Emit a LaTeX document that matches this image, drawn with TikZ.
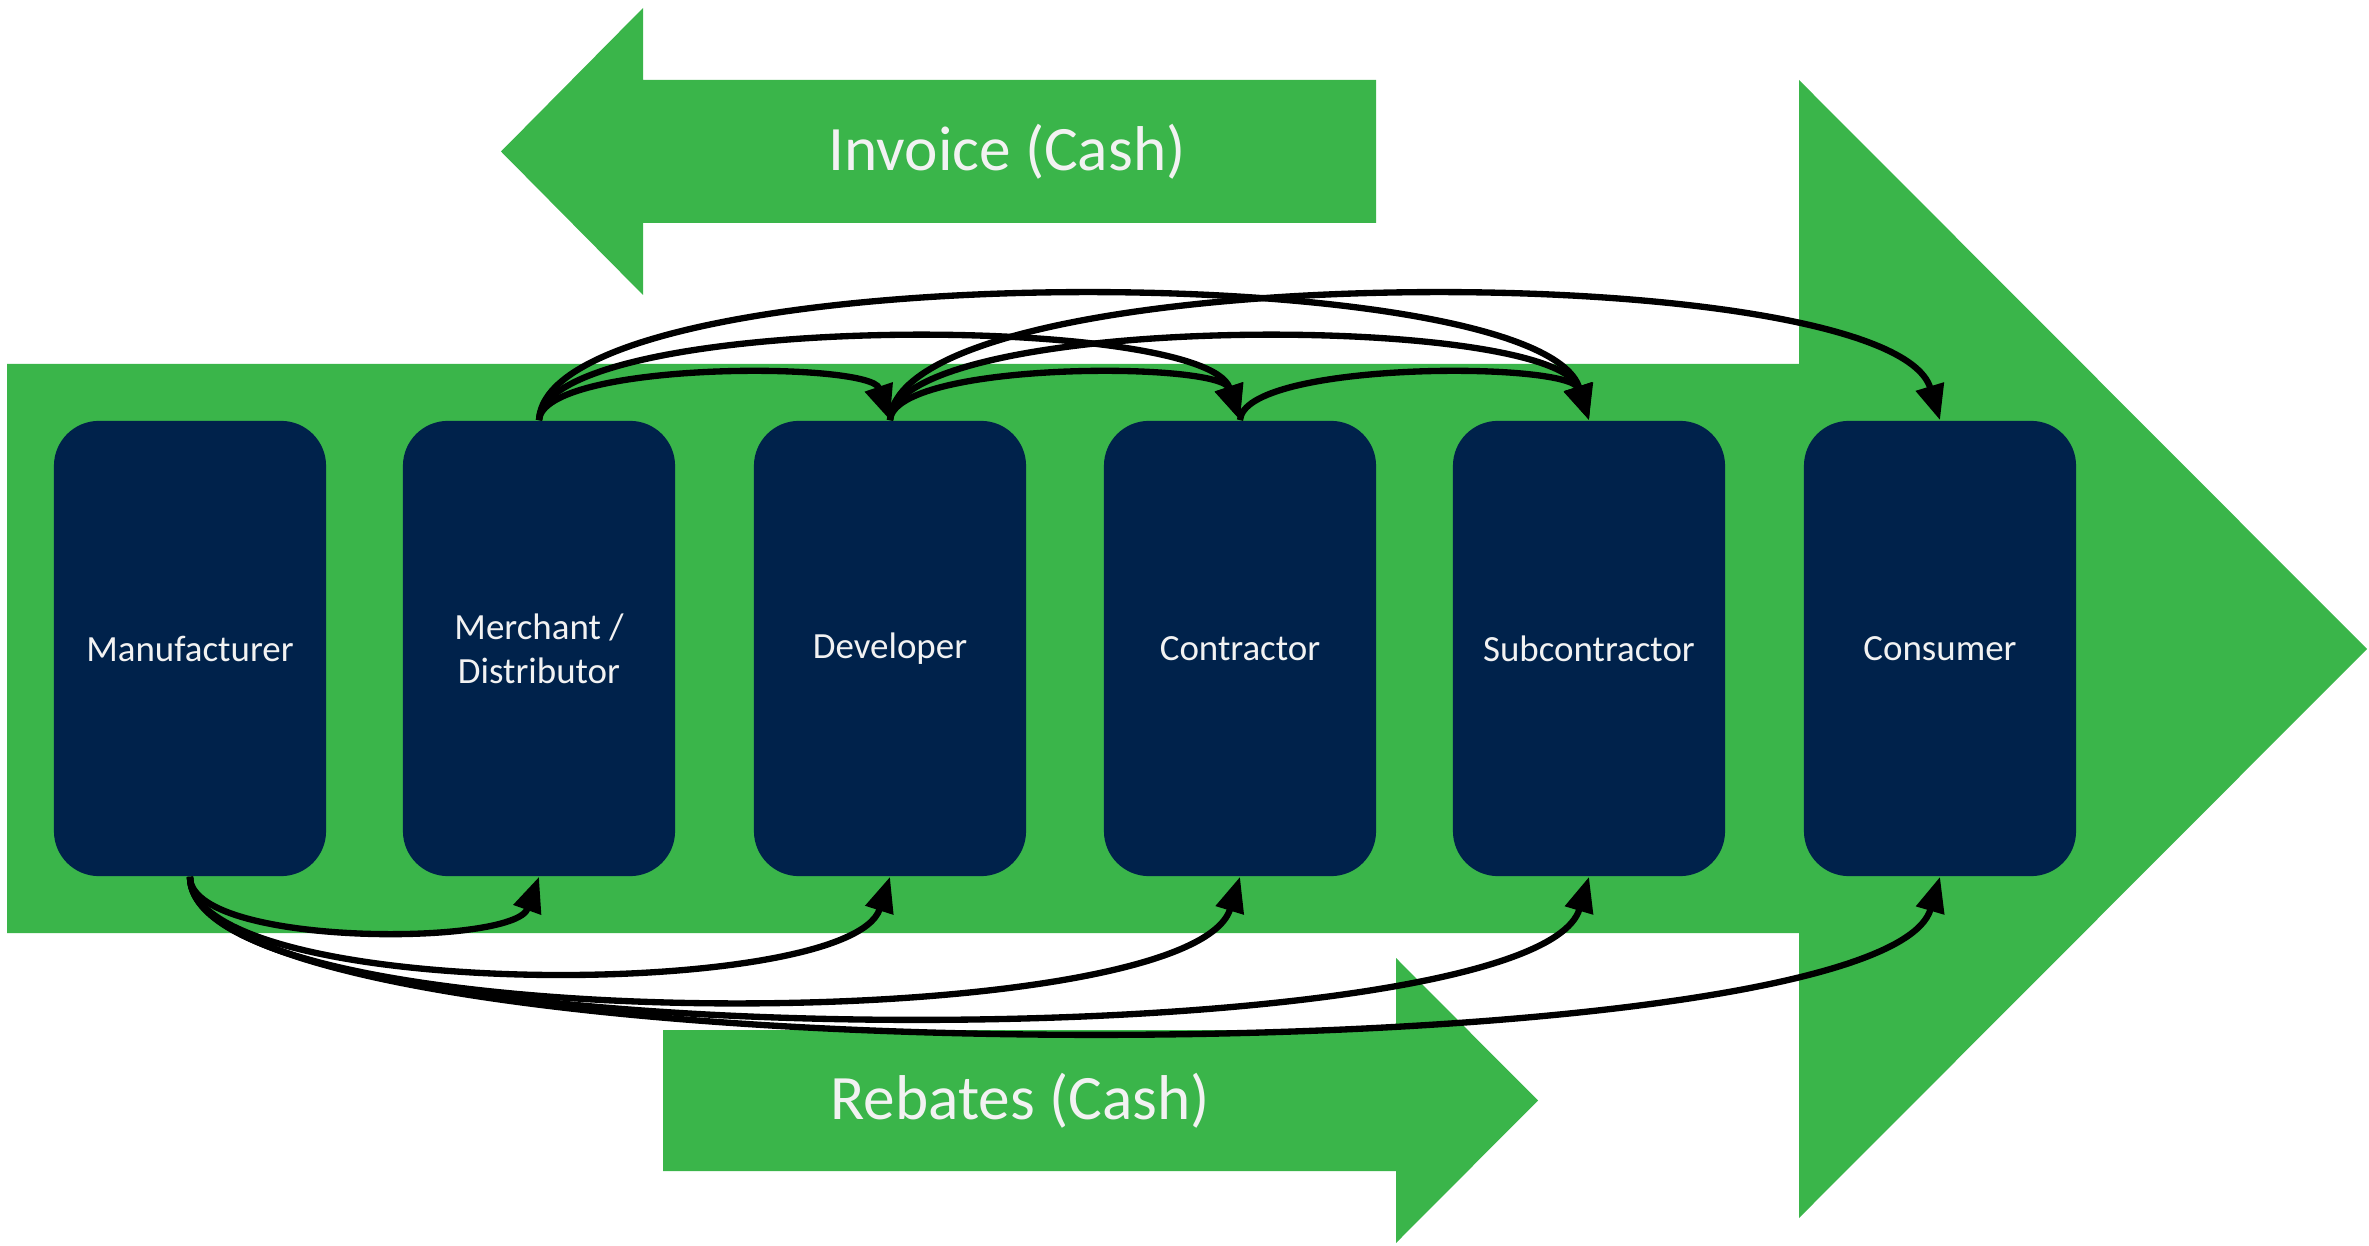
\documentclass[tikz,border=0pt]{standalone}
\usepackage{fontspec}
\setmainfont{Carlito}
\usetikzlibrary{arrows.meta}
\definecolor{flowgreen}{RGB}{58,181,74}
\definecolor{navy}{RGB}{0,34,75}
\definecolor{paletext}{RGB}{242,242,242}

\begin{document}
\begin{tikzpicture}[x=0.01cm,y=-0.01cm,
  party/.style={fill=navy, rounded corners=0.45cm, minimum width=2.72cm,
    minimum height=4.55cm, inner sep=0pt, align=center, text=paletext,
    font=\fontsize{10.5}{12.6}\selectfont},
  flowlabel/.style={text=paletext, font=\fontsize{18}{21}\selectfont},
  link/.style={line width=1.8pt, -{Triangle[length=10pt,width=8pt]}},
  band/.style={fill=flowgreen}]
\useasboundingbox (0,0) rectangle (2369,1246);

% main flow arrow
\fill[band] (7,364) -- (1799,364) -- (1799,80) -- (2367,649) -- (1799,1218)
  -- (1799,933) -- (7,933) -- cycle;

% invoice arrow (leftwards)
\fill[band] (1376,80) -- (643,80) -- (643,8) -- (501,151.5) -- (643,295)
  -- (643,223) -- (1376,223) -- cycle;
\node[flowlabel] (inv) at (1007,151.5) {Invoice (Cash)};

% rebates arrow (rightwards)
\fill[band] (663,1030) -- (1396,1030) -- (1396,958) -- (1538,1100.5)
  -- (1396,1243) -- (1396,1171) -- (663,1171) -- cycle;
\node[flowlabel] (reb) at (1020,1100.5) {Rebates (Cash)};

% parties in the chain
\node[party] (man)  at (190,648.5)  {Manufacturer};
\node[party] (mer)  at (539,648.5)  {Merchant /\\Distributor};
\node[party] (dev)  at (890,648.5)  {Developer};
\node[party] (con)  at (1240,648.5) {Contractor};
\node[party] (sub)  at (1589,648.5) {Subcontractor};
\node[party] (cons) at (1940,648.5) {Consumer};

% links over the top
\draw[link] (mer.north) .. controls +(4,-59) and +(-20,-59) .. (dev.north);
\draw[link] (mer.north) .. controls +(6,-108) and +(-35,-108) .. (con.north);
\draw[link] (mer.north) .. controls +(8,-165) and +(-50,-165) .. (sub.north);
\draw[link] (dev.north) .. controls +(4,-59) and +(-20,-59) .. (con.north);
\draw[link] (dev.north) .. controls +(6,-108) and +(-35,-108) .. (sub.north);
\draw[link] (dev.north) .. controls +(8,-165) and +(-50,-165) .. (cons.north);
\draw[link] (con.north) .. controls +(4,-59) and +(-20,-59) .. (sub.north);

% links underneath, from the manufacturer
\draw[link] (man.south) .. controls +(0,70) and +(-25,70) .. (mer.south);
\draw[link] (man.south) .. controls +(0,125) and +(-40,125) .. (dev.south);
\draw[link] (man.south) .. controls +(0,163) and +(-50,163) .. (con.south);
\draw[link] (man.south) .. controls +(0,185) and +(-55,185) .. (sub.south);
\draw[link] (man.south) .. controls +(0,205) and +(-60,205) .. (cons.south);
\end{tikzpicture}
\end{document}
